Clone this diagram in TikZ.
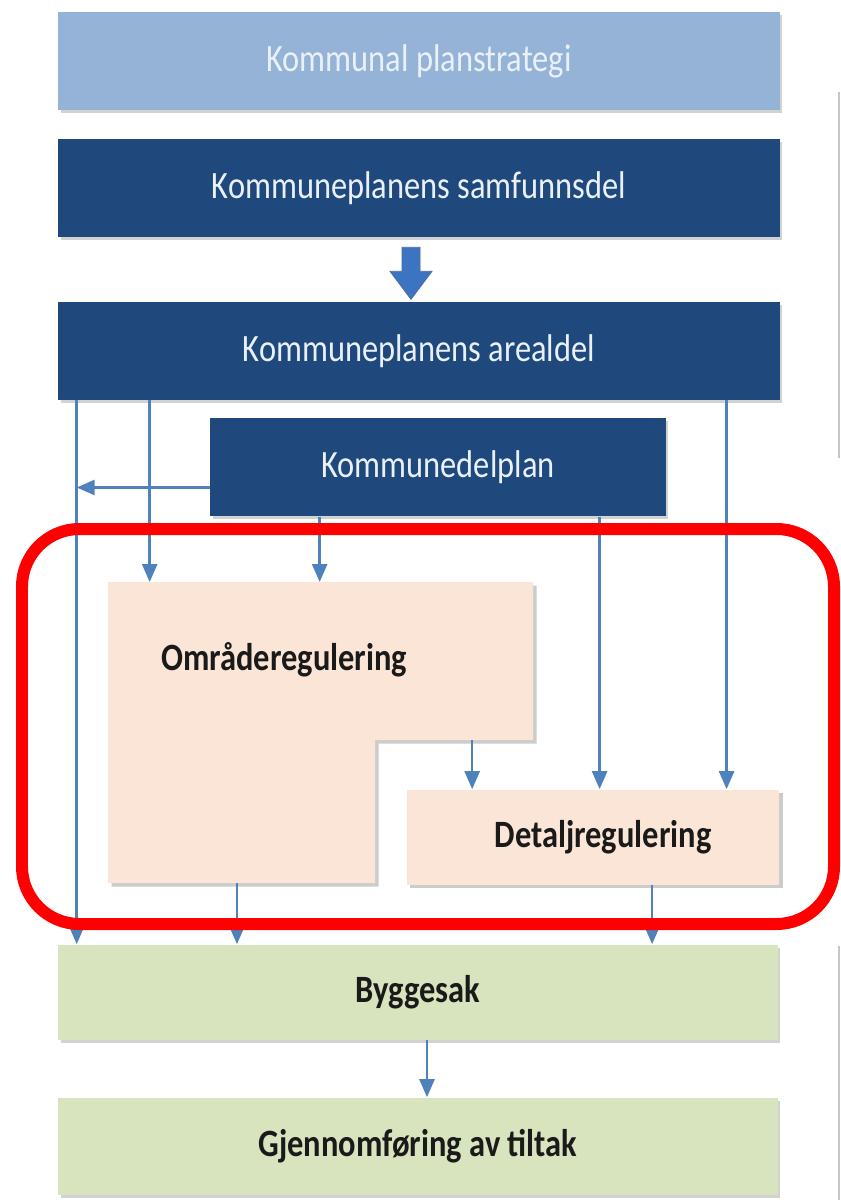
\documentclass[tikz,border=0pt]{standalone}
\usepackage{fontspec}
\setmainfont{Carlito}[FakeStretch=0.84]
\usetikzlibrary{arrows.meta,shadows}

\definecolor{planblue}{HTML}{95B3D7}
\definecolor{darkblue}{HTML}{1F497D}
\definecolor{linkblue}{HTML}{4F81BD}
\definecolor{arrowblue}{HTML}{3C74C2}
\definecolor{peach}{HTML}{FBE5D6}
\definecolor{palegreen}{HTML}{D7E4BD}
\definecolor{paletext}{HTML}{EAF0F8}
\definecolor{darktext}{HTML}{1A1A1A}

\tikzset{
  planbox/.style={rectangle, inner sep=0pt, minimum width=14.44cm, minimum height=1.96cm,
    font=\fontsize{22}{26}\selectfont,
    drop shadow={shadow xshift=0.05cm, shadow yshift=-0.06cm, opacity=0.35}},
  lightbox/.style={planbox, fill=planblue, text=paletext},
  bluebox/.style={planbox, fill=darkblue, text=paletext},
  greenbox/.style={planbox, fill=palegreen, text=darktext, font=\fontsize{22}{26}\selectfont\bfseries},
  regbox/.style={fill=peach, drop shadow={shadow xshift=0.07cm, shadow yshift=-0.07cm, opacity=0.4}},
  link/.style={draw=linkblue, line width=1.5pt, -{Triangle[width=0.3cm,length=0.36cm]}},
}

\begin{document}
\begin{tikzpicture}[x=0.02cm, y=-0.02cm]
  \useasboundingbox[fill=white] (0,0) rectangle (841,1200);

  % plan levels
  \node[lightbox] (plan) at (419,61) {Kommunal planstrategi};
  \node[bluebox] (samf) at (419,188) {Kommuneplanens samfunnsdel};
  \node[bluebox] (areal) at (419,351) {Kommuneplanens arealdel};
  \node[bluebox, minimum width=9.12cm, minimum height=1.98cm] (kdp) at (438,467) {Kommunedelplan};

  % regulation plans
  \coordinate (omrNW) at (108,582);
  \coordinate (omrNE) at (533,582);
  \coordinate (omrStep) at (375,740);
  \coordinate (omrSW) at (108,883);
  \fill[regbox] (omrNW) -- (omrNE) -- (omrNE |- omrStep) -- (omrStep) -- (omrStep |- omrSW) -- (omrSW) -- cycle;
  \node[anchor=west, text=darktext, font=\fontsize{22}{26}\selectfont\bfseries] (omr) at (155,660) {Områderegulering};
  \node[regbox, rectangle, inner sep=0pt, minimum width=7.46cm, minimum height=1.9cm,
    text=darktext, font=\fontsize{22}{26}\selectfont\bfseries] (detalj) at (593,837) {\hspace*{0.4cm}Detaljregulering};

  % building case
  \node[greenbox, minimum width=14.4cm, minimum height=1.9cm] (bygg) at (418,992) {Byggesak};
  \node[greenbox, minimum width=14.4cm, minimum height=1.94cm] (gjen) at (418,1146) {Gjennomføring av tiltak};

  % block arrow
  \fill[arrowblue, draw=darkblue!80, line width=0.4pt] ([xshift=-0.16cm]samf.south) ++(-9,10) -- ++(18,0) -- ++(0,24)
    -- ++(12,0) -- ++(-21,28) -- ++(-21,-28) -- ++(12,0) -- cycle;

  % connectors
  \coordinate (l1) at ([xshift=0.38cm]areal.south west);
  \draw[link] (l1) -- (l1 |- bygg.north);
  \draw[link] ([xshift=1.84cm]areal.south west) -- ([xshift=1.84cm]areal.south west |- omrNW);
  \draw[link] ([yshift=-0.41cm]kdp.west) -- ([yshift=-0.41cm]kdp.west -| l1);
  \draw[link] ([xshift=2.2cm]kdp.south west) -- ([xshift=2.2cm]kdp.south west |- omrNW);
  \draw[link] ([xshift=7.8cm]kdp.south west) -- ([xshift=7.8cm]kdp.south west |- detalj.north);
  \draw[link] ([xshift=13.38cm]areal.south west) -- ([xshift=13.38cm]areal.south west |- detalj.north);
  \draw[link] ([xshift=1.32cm]detalj.north west |- omrStep) -- ([xshift=1.32cm]detalj.north west);
  \draw[link] ([xshift=2.58cm]omrSW) -- ([xshift=2.58cm]omrSW |- bygg.north);
  \draw[link] ([xshift=4.92cm]detalj.south west) -- ([xshift=4.92cm]detalj.south west |- bygg.north);
  \draw[link] ([xshift=0.18cm]bygg.south) -- ([xshift=0.18cm]bygg.south |- gjen.north);

  % highlight
  \draw[red, line width=0.24cm, rounded corners=1.15cm] (22,529) rectangle (834,924);

  % cut edges at the right
  \draw[gray!45, line width=1pt] (839,92) -- (839,458);
  \draw[gray!45, line width=1pt] (839,946) -- (839,1200);
\end{tikzpicture}
\end{document}
